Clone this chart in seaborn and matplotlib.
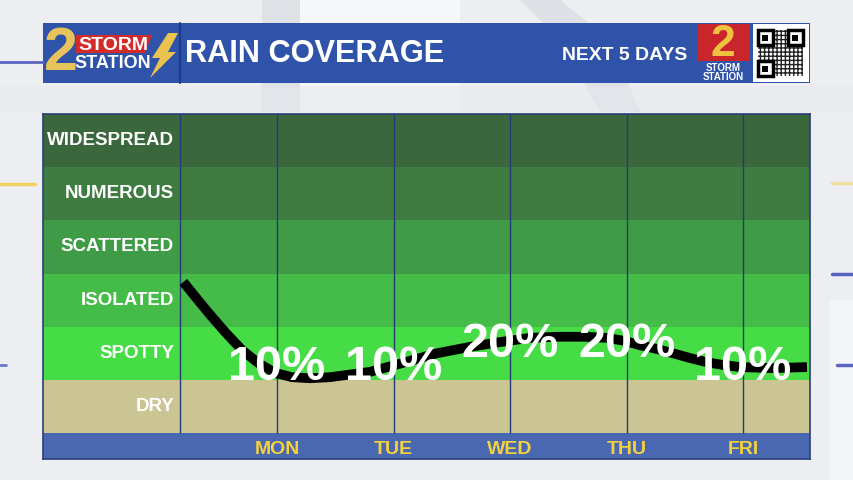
import numpy as np
import pandas as pd
import seaborn as sns
import matplotlib.pyplot as plt
from matplotlib import font_manager
from matplotlib.patches import Rectangle, Polygon

# данные

levels = ["DRY", "SPOTTY", "ISOLATED", "SCATTERED", "NUMEROUS", "WIDESPREAD"]
days = ["MON", "TUE", "WED", "THU", "FRI"]
coverage = [10, 10, 20, 20, 10]

# линия (день, уровень)
curve_x = [0.196, 0.296, 0.408, 0.554, 0.700, 0.837, 0.983, 1.129, 1.283,
           1.455, 1.798, 2.082, 2.374, 2.657, 2.914, 3.172, 3.403, 3.644,
           3.833, 3.987, 4.116, 4.262, 4.399, 4.545, 4.691, 4.828, 4.974,
           5.258, 5.549]
curve_y = [2.84, 2.57, 2.27, 1.90, 1.56, 1.32, 1.13, 1.05, 1.03,
           1.05, 1.15, 1.32, 1.50, 1.62, 1.71, 1.79, 1.81, 1.81,
           1.79, 1.73, 1.65, 1.58, 1.50, 1.41, 1.33, 1.28, 1.24,
           1.22, 1.24]

band_colors = ["#cbc594", "#45dc45", "#45bb48", "#3f9b45", "#3e7c42", "#3b673d"]

sns.set_theme(style="white")
plt.rcParams["font.family"] = ["Liberation Sans", "DejaVu Sans"]

names = {f.name for f in font_manager.fontManager.ttflist}
narrow = "Liberation Sans Narrow" in names
head_font = ["Liberation Sans Narrow", "Liberation Sans"] if narrow else ["Liberation Sans"]
k = 1.0 if narrow else 0.82

fig = plt.figure(figsize=(8.54, 4.8), dpi=100)
fig.patch.set_facecolor("#eceef2")

# фон и шапка в пикселях
bg = fig.add_axes([0, 0, 1, 1], zorder=0)
bg.set_xlim(0, 854)
bg.set_ylim(480, 0)
bg.axis("off")

bg.add_patch(Polygon([[262, 0], [300, 0], [300, 112], [262, 112]],
                     color="#d9dce2", alpha=0.7, lw=0))
bg.add_patch(Rectangle((300, 0), 160, 112, color="#f6f7f9", lw=0))
bg.add_patch(Polygon([[455, 0], [520, 0], [560, 40], [600, 112], [640, 112],
                      [610, 40], [560, 0]], color="#d5d8de", alpha=0.6, lw=0))
bg.add_patch(Rectangle((0, 86), 854, 26, color="#e7e9ed", alpha=0.6, lw=0))
bg.add_patch(Rectangle((830, 300), 24, 180, color="#f4f5f7", lw=0))

bg.plot([0, 43], [62, 62], color="#5a63c0", lw=2)
bg.plot([0, 35], [184, 184], color="#f0d060", lw=2.5)
bg.plot([0, 6], [365, 365], color="#6a74c8", lw=2)
bg.plot([832, 854], [183, 183], color="#f0e0a0", lw=2.5)
bg.plot([832, 854], [274, 274], color="#5a63c0", lw=2.5)
bg.plot([837, 854], [365, 365], color="#5a63c0", lw=2.5)

bg.add_patch(Rectangle((43, 23), 767, 60, color="#2f53a9", lw=0))
bg.plot([180, 180], [23, 83], color="#1e3b86", lw=1.5)

# левый логотип
bg.text(61, 55, "2", color="#e8c25a", fontsize=44, fontweight="bold",
        ha="center", va="center")
bg.add_patch(Polygon([[76, 35], [152, 35], [145, 53], [76, 53]],
                     color="#d42a2a", lw=0))
bg.text(113, 45, "STORM", color="white", fontsize=14, fontweight="bold",
        ha="center", va="center")
bg.text(113, 64, "STATION", color="white", fontsize=13, fontweight="bold",
        ha="center", va="center")
bg.add_patch(Polygon([[168, 33], [178, 33], [168, 52], [176, 52],
                      [150, 78], [160, 58], [152, 58]], color="#e9c24f", lw=0))

bg.text(185, 54, "RAIN COVERAGE", color="white", fontsize=27 * k,
        fontweight="bold", ha="left", va="center", family=head_font)
bg.text(687, 56, "NEXT 5 DAYS", color="white", fontsize=17 * k,
        fontweight="bold", ha="right", va="center", family=head_font)

# правый логотип
bg.add_patch(Rectangle((697, 24), 53, 37, color="#c8262a", lw=0))
bg.text(723, 44, "2", color="#f0c040", fontsize=32, fontweight="bold",
        ha="center", va="center")
bg.text(723, 68, "STORM", color="white", fontsize=7, fontweight="bold",
        ha="center", va="center")
bg.text(723, 77.5, "STATION", color="white", fontsize=7, fontweight="bold",
        ha="center", va="center")

bg.add_patch(Rectangle((753, 24), 56, 58, color="white", lw=0))
bg.add_patch(Rectangle((758, 30), 45, 46, facecolor="none", edgecolor="#222222",
                       hatch="++++", lw=0))
for qx, qy in [(758, 30), (788, 30), (758, 61)]:
    bg.add_patch(Rectangle((qx, qy), 15, 15, facecolor="white",
                           edgecolor="black", lw=2.5))
    bg.add_patch(Rectangle((qx + 4.5, qy + 4.5), 6, 6, color="black", lw=0))

# основной график
ax = fig.add_axes([43 / 854, 1 - 459 / 480, 767 / 854, 345 / 480], zorder=1)

x_left = 1 + (43 - 277) / 116.5
x_right = 1 + (810 - 277) / 116.5
strip = 26 / 53.17

for i, color in enumerate(band_colors):
    ax.axhspan(i, i + 1, color=color, lw=0)
ax.axhspan(-strip, 0, color="#4a67b2", lw=0)

divider = 1 + (180 - 277) / 116.5
ax.vlines([divider] + list(range(1, len(days) + 1)), 0, 6,
          color="#243a78", lw=1)

sns.lineplot(x=curve_x, y=curve_y, color="black", lw=7, ax=ax,
             solid_capstyle="butt", solid_joinstyle="round")

label_x = 1 + (174 - 277) / 116.5
for i, name in enumerate(levels):
    ax.text(label_x, i + 0.5, name, color="white", fontsize=13.5,
            fontweight="bold", ha="right", va="center")

for i, (day, value) in enumerate(zip(days, coverage)):
    ax.text(i + 1, -0.395, day, color="#f3d23c", fontsize=14,
            fontweight="bold", ha="center", va="baseline")
    ax.text(i + 1, 0.57 + value * 0.043, f"{value}%", color="white",
            fontsize=35, fontweight="bold", ha="center", va="baseline")

ax.set_xlim(x_left, x_right)
ax.set_ylim(-strip, 6)
ax.set_xticks([])
ax.set_yticks([])
ax.set_xlabel("")
ax.set_ylabel("")
for spine in ax.spines.values():
    spine.set_visible(True)
    spine.set_color("#2b3f78")
    spine.set_linewidth(1.2)

fig.savefig("out.png", dpi=100)
